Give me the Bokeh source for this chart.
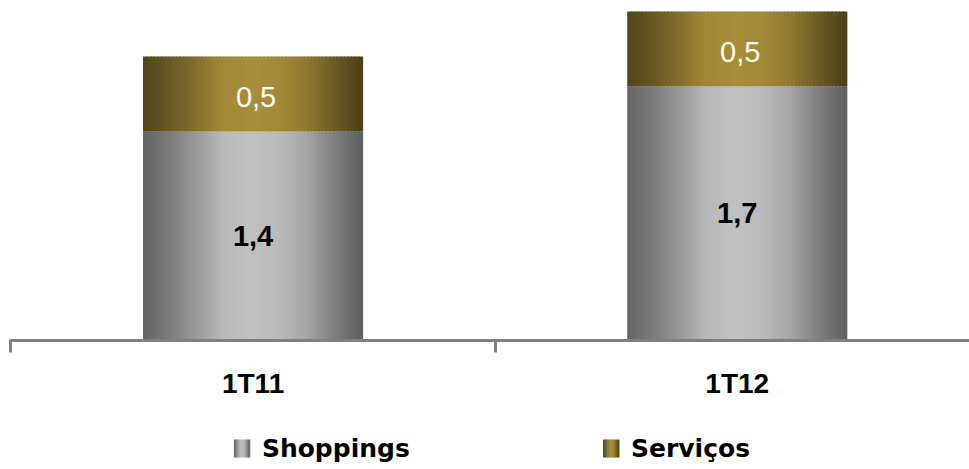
from bokeh.plotting import figure
from bokeh.models import Range1d, FixedTicker, ColumnDataSource
from bokeh.layouts import column
from bokeh.core.properties import value
from bokeh.embed import file_html
from bokeh.resources import INLINE

# ---- data ----
categories = ["1T11", "1T12"]
shoppings = [1.4, 1.7]
servicos = [0.5, 0.5]
series_names = ["Shoppings", "Serviços"]

# ---- styling ----
BAR_W = 0.452
N_STRIPS = 60
profile = [(0.0, 0.06), (0.12, 0.3), (0.25, 0.62), (0.36, 0.92), (0.5, 1.0),
           (0.62, 0.94), (0.75, 0.72), (0.88, 0.32), (1.0, 0.0)]
gray_dark, gray_light = (94, 94, 94), (192, 192, 192)
gold_dark, gold_light = (76, 64, 26), (168, 142, 57)
palettes = [(gray_dark, gray_light), (gold_dark, gold_light)]


def shade(t):
    for (t0, v0), (t1, v1) in zip(profile[:-1], profile[1:]):
        if t0 <= t <= t1:
            return v0 + (v1 - v0) * (t - t0) / (t1 - t0)
    return profile[-1][1]


def mix(dark, light, f):
    return "#%02x%02x%02x" % tuple(int(round(d + (l - d) * f)) for d, l in zip(dark, light))


W = 969
MAIN_H = 403
LEG_H = 469 - MAIN_H

p = figure(width=W, height=MAIN_H, output_backend="svg", toolbar_location=None,
           x_range=Range1d(-0.001, 1.9796), y_range=Range1d(0, 2.2207),
           y_axis_location=None, min_border_left=10, min_border_right=0,
           min_border_top=8, min_border_bottom=63)
p.outline_line_color = None
p.grid.visible = False

centers = [i + 0.5 for i in range(len(categories))]

# gradient strips for the stacked bars
strip_w = BAR_W / N_STRIPS
for (bottoms, heights), (dark, light) in zip(
        [([0] * len(shoppings), shoppings), (shoppings, servicos)], palettes):
    xs, bots, tops, cols = [], [], [], []
    for c, b, h in zip(centers, bottoms, heights):
        for k in range(N_STRIPS):
            t = (k + 0.5) / N_STRIPS
            xs.append(c - BAR_W / 2 + t * BAR_W)
            bots.append(b)
            tops.append(b + h)
            cols.append(mix(dark, light, shade(t)))
    src = ColumnDataSource(dict(x=xs, bottom=bots, top=tops, color=cols))
    p.vbar(x="x", bottom="bottom", top="top", width=strip_w * 1.35, source=src,
           fill_color="color", line_color=None)

# value labels
p.text(x=centers, y=[s / 2 for s in shoppings],
       text=[("%.1f" % v).replace(".", ",") for v in shoppings],
       text_font=value("Liberation Sans"), text_font_style="bold",
       text_font_size="29px", text_color="black",
       text_align="center", text_baseline="middle")
p.text(x=centers, y=[s + v / 2 for s, v in zip(shoppings, servicos)],
       text=[("%.1f" % v).replace(".", ",") for v in servicos],
       text_font=value("Liberation Sans"), text_font_size="29px",
       text_color="white", text_align="center", text_baseline="middle",
       x_offset=3, y_offset=3)

# x axis
ax = p.xaxis[0]
ax.ticker = FixedTicker(ticks=centers, minor_ticks=[float(i) for i in range(len(categories) + 1)])
ax.major_label_overrides = {c: cat for c, cat in zip(centers, categories)}
ax.axis_line_color = "#808080"
ax.axis_line_width = 3
ax.axis_line_cap = "round"
ax.major_tick_line_color = None
ax.major_tick_out = 0
ax.major_tick_in = 0
ax.minor_tick_line_color = "#808080"
ax.minor_tick_line_width = 3
ax.minor_tick_out = 12
ax.minor_tick_in = 0
ax.major_label_text_font = "Liberation Sans"
ax.major_label_text_font_style = "bold"
ax.major_label_text_font_size = "28px"
ax.major_label_text_color = "black"
ax.major_label_standoff = 15

# ---- legend strip below (pixel coordinates) ----
leg = figure(width=W, height=LEG_H, output_backend="svg", toolbar_location=None,
             x_range=Range1d(0, W), y_range=Range1d(LEG_H, 0),
             x_axis_location=None, y_axis_location=None,
             min_border=0)
leg.outline_line_color = None
leg.grid.visible = False

ICON_W, ICON_H, ICON_TOP = 16, 18, 36
item_left = [226, 599]
ICON_STRIPS = 8
for left, (dark, light) in zip(item_left, palettes):
    xs, cols = [], []
    for k in range(ICON_STRIPS):
        t = (k + 0.5) / ICON_STRIPS
        xs.append(left + t * ICON_W)
        cols.append(mix(dark, light, shade(t)))
    leg.vbar(x=xs, bottom=ICON_TOP, top=ICON_TOP + ICON_H,
             width=ICON_W / ICON_STRIPS * 1.3, fill_color=cols, line_color=None)
leg.text(x=[l + ICON_W + 12 for l in item_left], y=[ICON_TOP + ICON_H / 2] * 2,
         text=series_names, text_font=value("DejaVu Sans"), text_font_style="bold",
         text_font_size="25px", text_color="black",
         text_align="left", text_baseline="middle")

layout = column(p, leg, spacing=0)
open("out.html", "w").write(file_html(layout, INLINE))
